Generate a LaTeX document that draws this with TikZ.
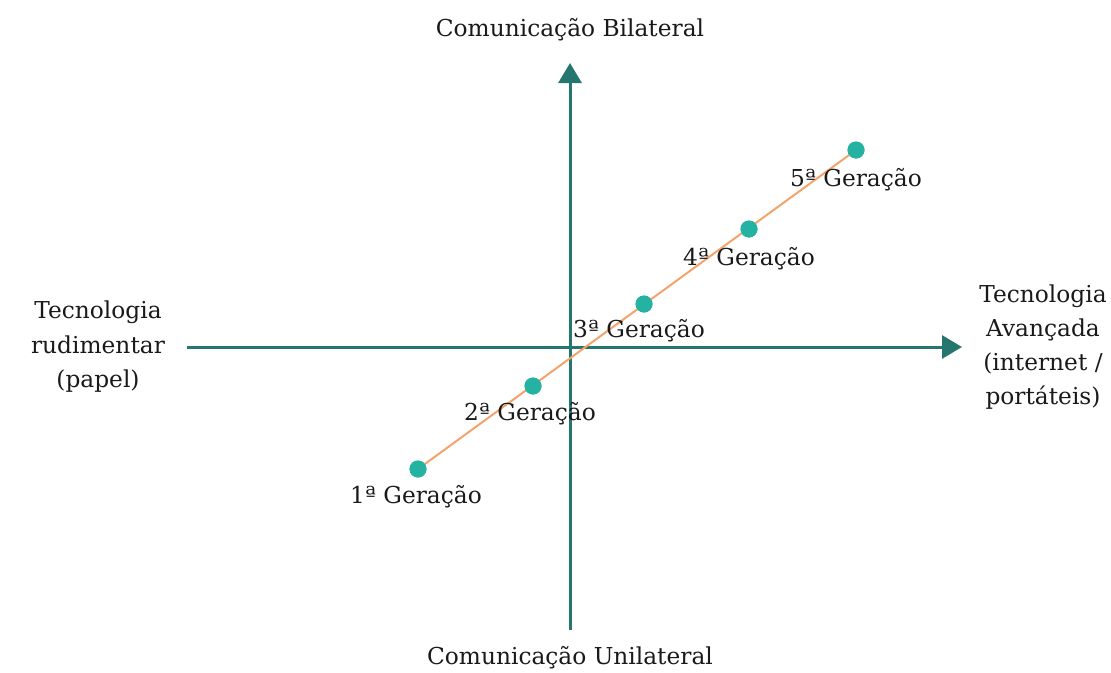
\documentclass[tikz,border=0pt]{standalone}
\usepackage{fontspec}
\setmainfont{DejaVu Serif}
\usetikzlibrary{arrows.meta}
\definecolor{axis}{RGB}{38,118,112}
\definecolor{dotc}{RGB}{38,178,162}
\definecolor{lin}{RGB}{244,164,106}
\tikzset{
  ax/.style={draw=axis,line width=3pt,-{Triangle[length=20pt,width=23pt]}},
  dotn/.style={circle,fill=dotc,inner sep=0pt,minimum size=17pt},
  lbl/.style={font=\fontsize{23.3}{27}\selectfont,text=black!90,inner sep=0pt,align=center},
}
\begin{document}
\begin{tikzpicture}[x=1pt,y=-1pt]
\useasboundingbox (0,0) rectangle (1111,672);
\coordinate (vb) at (570,630);
\coordinate (vt) at (570,63);
\coordinate (hl) at (187,347);
\coordinate (hr) at (962,347);
\draw[ax] (vb) -- (vt);
\draw[ax] (hl) -- (hr);
\node[dotn] (d1) at (418,469) {};
\node[dotn] (d2) at (533,386) {};
\node[dotn] (d3) at (644,304) {};
\node[dotn] (d4) at (749,229) {};
\node[dotn] (d5) at (856,150) {};
\draw[lin,line width=2pt] (d1.center) -- (d5.center);
\foreach \i in {1,...,5} \node[dotn] at (d\i) {};
\node[lbl] (l1) at (416,497) {1ª Geração};
\node[lbl] (l2) at (530,414) {2ª Geração};
\node[lbl] (l3) at (639,331) {3ª Geração};
\node[lbl] (l4) at (749,259) {4ª Geração};
\node[lbl] (l5) at (856,180) {5ª Geração};
\node[lbl] (top) at (570,30) {Comunicação Bilateral};
\node[lbl] (bot) at (570,658) {Comunicação Unilateral};
\node[lbl,font=\fontsize{23.3}{34.5}\selectfont] (left) at (98,347) {Tecnologia\\rudimentar\\(papel)};
\node[lbl,font=\fontsize{23.3}{34}\selectfont] (right) at (1043,347) {Tecnologia\\Avançada\\(internet /\\portáteis)};
\end{tikzpicture}
\end{document}
